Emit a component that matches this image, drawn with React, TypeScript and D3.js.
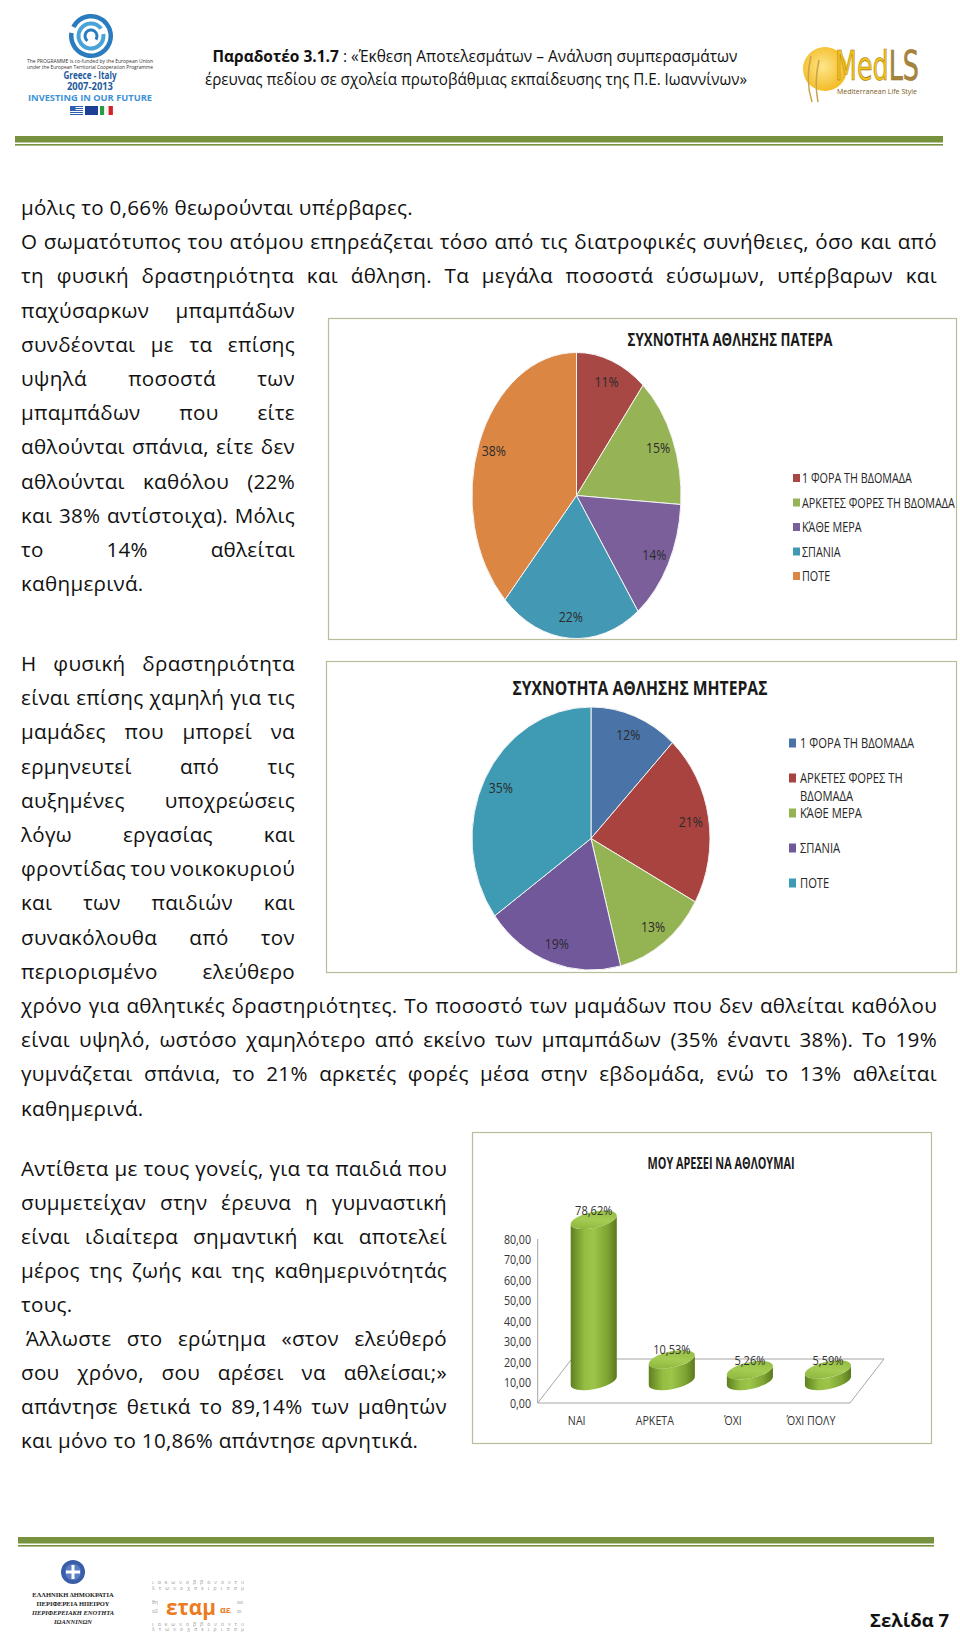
import { useEffect, useRef } from 'react';
import * as d3 from 'd3';

const FONT = "'Open Sans', 'Noto Sans', sans-serif";
const SERIF = "'Liberation Serif', 'DejaVu Serif', serif";

// ---- body text (one entry per printed line) ----
const para1Wide = [
  'μόλις το 0,66% θεωρούνται υπέρβαρες.',
  'Ο σωματότυπος του ατόμου επηρεάζεται τόσο από τις διατροφικές συνήθειες, όσο και από',
  'τη φυσική δραστηριότητα και άθληση. Τα μεγάλα ποσοστά εύσωμων, υπέρβαρων και',
];
const para1Narrow = [
  'παχύσαρκων μπαμπάδων',
  'συνδέονται με τα επίσης',
  'υψηλά ποσοστά των',
  'μπαμπάδων που είτε',
  'αθλούνται σπάνια, είτε δεν',
  'αθλούνται καθόλου (22%',
  'και 38% αντίστοιχα). Μόλις',
  'το 14% αθλείται',
  'καθημερινά.',
];
const para2Narrow = [
  'Η φυσική δραστηριότητα',
  'είναι επίσης χαμηλή για τις',
  'μαμάδες που μπορεί να',
  'ερμηνευτεί από τις',
  'αυξημένες υποχρεώσεις',
  'λόγω εργασίας και',
  'φροντίδας του νοικοκυριού',
  'και των παιδιών και',
  'συνακόλουθα από τον',
  'περιορισμένο ελεύθερο',
];
const para2Wide = [
  'χρόνο για αθλητικές δραστηριότητες. Το ποσοστό των μαμάδων που δεν αθλείται καθόλου',
  'είναι υψηλό, ωστόσο χαμηλότερο από εκείνο των μπαμπάδων (35% έναντι 38%). Το 19%',
  'γυμνάζεται σπάνια, το 21% αρκετές φορές μέσα στην εβδομάδα, ενώ το 13% αθλείται',
  'καθημερινά.',
];
const para3 = [
  'Αντίθετα με τους γονείς, για τα παιδιά που',
  'συμμετείχαν στην έρευνα η γυμναστική',
  'είναι ιδιαίτερα σημαντική και αποτελεί',
  'μέρος της ζωής και της καθημερινότητάς',
  'τους.',
  ' Άλλωστε στο ερώτημα «στον ελεύθερό',
  'σου χρόνο, σου αρέσει να αθλείσαι;»',
  'απάντησε θετικά το 89,14% των μαθητών',
  'και μόνο το 10,86% απάντησε αρνητικά.',
];

// ---- chart data ----
const fatherTitle = 'ΣΥΧΝΟΤΗΤΑ ΑΘΛΗΣΗΣ ΠΑΤΕΡΑ';
const fatherLabels = ['1 ΦΟΡΑ ΤΗ ΒΔΟΜΑΔΑ', 'ΑΡΚΕΤΕΣ ΦΟΡΕΣ ΤΗ ΒΔΟΜΑΔΑ', 'ΚΆΘΕ ΜΕΡΑ', 'ΣΠΑΝΙΑ', 'ΠΟΤΕ'];
const fatherValues = [11, 15, 14, 22, 38];
const fatherColors = ['#a84845', '#96b455', '#7a5f9b', '#4399b3', '#dc8643'];

const motherTitle = 'ΣΥΧΝΟΤΗΤΑ ΑΘΛΗΣΗΣ ΜΗΤΕΡΑΣ';
const motherLabels = [['1 ΦΟΡΑ ΤΗ ΒΔΟΜΑΔΑ'], ['ΑΡΚΕΤΕΣ ΦΟΡΕΣ ΤΗ', 'ΒΔΟΜΑΔΑ'], ['ΚΆΘΕ ΜΕΡΑ'], ['ΣΠΑΝΙΑ'], ['ΠΟΤΕ']];
const motherValues = [12, 21, 13, 19, 35];
const motherColors = ['#4a73a7', '#a9433f', '#94b453', '#71589b', '#3f9ab4'];

const likeTitle = 'ΜΟΥ ΑΡΕΣΕΙ ΝΑ ΑΘΛΟΥΜΑΙ';
const likeCategories = ['ΝΑΙ', 'ΑΡΚΕΤΑ', 'ΌΧΙ', 'ΌΧΙ ΠΟΛΥ'];
const likeValues = [78.62, 10.53, 5.26, 5.59];

const grLocale = d3.formatLocale({ decimal: ',', thousands: '.', grouping: [3], currency: ['', '€'] });
const fmt2 = grLocale.format('.2f');

const LEFT = 21;
const BODY_SIZE = 20.6;

// narrow text helper (Calibri is narrower than the fonts we have)
const NText = ({ x, y, sx = 0.86, size = 13, anchor = 'start', weight = 'normal', fill = '#262626', children }: any) => (
  <text
    transform={`translate(${x},${y}) scale(${sx},1)`}
    fontSize={size}
    fontWeight={weight}
    textAnchor={anchor}
    fill={fill}
    fontFamily={FONT}
  >
    {children}
  </text>
);

const PieChart = ({ values, colors, cx, cy, rx, ry }: any) => {
  const arcs = d3.pie<number>().sort(null)(values);
  const arc = d3.arc<d3.PieArcDatum<number>>().innerRadius(0).outerRadius(1);
  const labelArc = d3.arc<d3.PieArcDatum<number>>().innerRadius(0.85).outerRadius(0.85);
  return (
    <g>
      <g transform={`translate(${cx},${cy}) scale(${rx},${ry})`}>
        {arcs.map((a, i) => (
          <path key={i} d={arc(a) as string} fill={colors[i]} stroke="#f4f4f4" strokeWidth={1} vectorEffect="non-scaling-stroke" />
        ))}
      </g>
      {arcs.map((a, i) => {
        const [lx, ly] = labelArc.centroid(a);
        return (
          <NText key={i} x={cx + lx * rx} y={cy + ly * ry + 5.5} size={15} sx={0.82} anchor="middle" fill="#2b2b2b">
            {values[i]}%
          </NText>
        );
      })}
    </g>
  );
};

const CylinderChart = () => {
  const x0 = 537.7;
  const x1 = 850;
  const depthX = 34;
  const depthY = 44;
  const x = d3.scaleBand<string>().domain(likeCategories).range([x0, x1]);
  const y = d3.scaleLinear().domain([0, 80]).range([1403, 1239]);
  const ticks = y.ticks(8);
  const a = 23.5;
  const b = 8;
  const th = (-12 * Math.PI) / 180;
  const t = Math.atan(-(b * Math.sin(th)) / (a * Math.cos(th)));
  const ex = a * Math.cos(t) * Math.cos(th) - b * Math.sin(t) * Math.sin(th);
  const ey = a * Math.cos(t) * Math.sin(th) + b * Math.sin(t) * Math.cos(th);
  const deg = (th * 180) / Math.PI;
  return (
    <g>
      <defs>
        <linearGradient id="cylBody" x1="0" x2="1" y1="0" y2="0">
          <stop offset="0%" stopColor="#5f7f20" />
          <stop offset="30%" stopColor="#94bd42" />
          <stop offset="50%" stopColor="#9cc549" />
          <stop offset="80%" stopColor="#7ea332" />
          <stop offset="100%" stopColor="#5a781d" />
        </linearGradient>
        <linearGradient id="cylTop" x1="0" x2="1" y1="1" y2="0">
          <stop offset="0%" stopColor="#86ad36" />
          <stop offset="50%" stopColor="#a5cc52" />
          <stop offset="100%" stopColor="#8fb73e" />
        </linearGradient>
      </defs>
      {/* floor */}
      <path
        d={`M${x0},${y(0)} L${x1},${y(0)} L${x1 + depthX},${y(0) - depthY} L${x0 + depthX},${y(0) - depthY} Z`}
        fill="none"
        stroke="#a6a6a6"
        strokeWidth={1}
      />
      {/* value axis */}
      <line x1={x0} x2={x0} y1={y(80)} y2={y(0)} stroke="#a6a6a6" strokeWidth={1} />
      {ticks.map((v) => (
        <NText key={v} x={531} y={y(v) + 4.5} size={13} sx={0.82} anchor="end" fill="#333">
          {fmt2(v)}
        </NText>
      ))}
      {likeCategories.map((c, i) => {
        const cx = (x(c) as number) + x.bandwidth() / 2 + depthX / 2;
        const bot = y(0) - depthY / 2;
        const top = y(likeValues[i]) - depthY / 2;
        const body =
          `M${cx - ex},${top - ey} L${cx - ex},${bot - ey} ` +
          `A${a},${b} ${deg} 0 0 ${cx + ex},${bot + ey} ` +
          `L${cx + ex},${top + ey} A${a},${b} ${deg} 0 1 ${cx - ex},${top - ey} Z`;
        return (
          <g key={c}>
            <path d={body} fill="url(#cylBody)" />
            <ellipse cx={cx} cy={top} rx={a} ry={b} transform={`rotate(${deg},${cx},${top})`} fill="url(#cylTop)" />
            <NText x={cx} y={top - 5} size={13.5} sx={0.82} anchor="middle" fill="#333">
              {fmt2(likeValues[i])}%
            </NText>
          </g>
        );
      })}
      {likeCategories.map((c) => (
        <NText key={c} x={(x(c) as number) + x.bandwidth() / 2} y={1425} size={13} sx={0.82} anchor="middle" fill="#333">
          {c}
        </NText>
      ))}
    </g>
  );
};

const App = () => {
  const textRef = useRef<SVGGElement>(null);

  useEffect(() => {
    const g = d3.select(textRef.current);
    g.selectAll('*').remove();
    const probe = g.append('text').attr('visibility', 'hidden');
    const measure = (s: string) => {
      probe.text(s);
      return (probe.node() as SVGTextElement).getComputedTextLength();
    };
    const blocks = [
      { lines: para1Wide, y0: 215, step: 34.2, right: 937 },
      { lines: para1Narrow, y0: 215 + 3 * 34.2, step: 34.2, right: 295 },
      { lines: para2Narrow, y0: 671, step: 34.2, right: 295 },
      { lines: para2Wide, y0: 671 + 10 * 34.2, step: 34.2, right: 937 },
      { lines: para3, y0: 1176, step: 34, right: 447 },
    ];
    blocks.forEach((b) =>
      b.lines.forEach((line, i) => {
        const yy = b.y0 + i * b.step;
        const indent = line.startsWith(' ') ? 5 : 0;
        const txt = line.trim();
        if (txt.endsWith('.')) {
          g.append('text').attr('x', LEFT + indent).attr('y', yy).text(txt);
          return;
        }
        const words = txt.split(' ');
        const widths = words.map(measure);
        const gap = Math.max(2.5, (b.right - LEFT - indent - d3.sum(widths)) / (words.length - 1));
        let xx = LEFT + indent;
        words.forEach((w, k) => {
          g.append('text').attr('x', xx).attr('y', yy).text(w);
          xx += widths[k] + gap;
        });
      })
    );
    probe.remove();
  }, []);

  const greekFlag = d3.range(9);

  return (
    <div style={{ position: 'absolute', left: 0, top: 0 }}>
      <svg width={960} height={1634} style={{ display: 'block', background: '#fff' }} fontFamily={FONT}>
        {/* ---------- header ---------- */}
        <g>
          {[
            [17.5, 22, -0.35, 1.55],
            [10.5, 14.5, 0.45, 2.3],
            [4.5, 7.5, 1.2, 2.7],
          ].map(([ri, ro, s, e], i) => (
            <path
              key={i}
              transform="translate(91,36)"
              d={d3.arc()({ innerRadius: ri, outerRadius: ro, startAngle: s * Math.PI, endAngle: e * Math.PI }) as string}
              fill={i === 1 ? '#4aa3d8' : '#2a7cbf'}
            />
          ))}
          <text x={90} y={63} fontSize={5} textAnchor="middle" fill="#333" textLength={126} lengthAdjust="spacingAndGlyphs">The PROGRAMME is co-funded by the European Union</text>
          <text x={90} y={68.5} fontSize={5} textAnchor="middle" fill="#333" textLength={126} lengthAdjust="spacingAndGlyphs">under the European Territorial Cooperation Programme</text>
          <text x={90} y={79} fontSize={10} fontWeight="bold" textAnchor="middle" fill="#1f5b9c" textLength={53} lengthAdjust="spacingAndGlyphs">Greece - Italy</text>
          <text x={90} y={90} fontSize={10} fontWeight="bold" textAnchor="middle" fill="#1f5b9c" textLength={46} lengthAdjust="spacingAndGlyphs">2007-2013</text>
          <text x={90} y={101} fontSize={9} fontWeight="bold" textAnchor="middle" fill="#3d92d6" textLength={124} lengthAdjust="spacingAndGlyphs">INVESTING IN OUR FUTURE</text>
          {greekFlag.map((k) => (
            <rect key={k} x={70} y={106 + k} width={13} height={1} fill={k % 2 === 0 ? '#2f5fb0' : '#ffffff'} />
          ))}
          <rect x={70} y={106} width={5.5} height={5} fill="#2f5fb0" />
          <rect x={85} y={106} width={13} height={9} fill="#1d3f96" />
          <rect x={100} y={106} width={4.3} height={9} fill="#2a9a47" />
          <rect x={104.3} y={106} width={4.3} height={9} fill="#f4f4f4" />
          <rect x={108.6} y={106} width={4.3} height={9} fill="#d2232a" />
        </g>
        <text x={475} y={62} fontSize={16} textAnchor="middle" fill="#111" textLength={525} lengthAdjust="spacingAndGlyphs">
          <tspan fontWeight="bold">Παραδοτέο 3.1.7</tspan> : «Έκθεση Αποτελεσμάτων – Ανάλυση συμπερασμάτων
        </text>
        <text x={476} y={85} fontSize={16} textAnchor="middle" fill="#111" textLength={542} lengthAdjust="spacingAndGlyphs">
          έρευνας πεδίου σε σχολεία πρωτοβάθμιας εκπαίδευσης της Π.Ε. Ιωαννίνων»
        </text>
        <g>
          <defs>
            <radialGradient id="sun" cx="0.45" cy="0.45" r="0.6">
              <stop offset="0%" stopColor="#fde68a" />
              <stop offset="100%" stopColor="#f3b81d" />
            </radialGradient>
            <linearGradient id="medls" gradientUnits="userSpaceOnUse" x1={835} x2={919} y1={0} y2={0}>
              <stop offset="0.62" stopColor="#f2c21a" />
              <stop offset="0.62" stopColor="#a58443" />
            </linearGradient>
          </defs>
          <circle cx={825} cy={69} r={22} fill="url(#sun)" />
          <path d="M812,102 Q805,80 811,56 M818,102 Q814,82 819,60" stroke="#c9a24a" strokeWidth={1.5} fill="none" />
          <text x={835} y={80} fontSize={40} fill="url(#medls)" stroke="#9b7418" strokeWidth={0.6} fontFamily="'DejaVu Sans', sans-serif" textLength={84} lengthAdjust="spacingAndGlyphs">MedLS</text>
          <text x={837} y={94} fontSize={7.5} fill="#7a5a20" textLength={80} lengthAdjust="spacingAndGlyphs">Mediterranean Life Style</text>
        </g>
        <rect x={15} y={136} width={928} height={6.5} fill="#76923c" />
        <rect x={15} y={144} width={928} height={1.6} fill="#76923c" />

        {/* ---------- body text (justified in the effect) ---------- */}
        <g ref={textRef} fontSize={BODY_SIZE} fill="#111" fontFamily={FONT} style={{ letterSpacing: '0.3px' }} />

        {/* ---------- chart 1 ---------- */}
        <rect x={328.5} y={318.5} width={628} height={321} fill="#fff" stroke="#b9bc98" strokeWidth={1.2} />
        <text x={730} y={346} fontSize={17.5} fontWeight="bold" textAnchor="middle" fill="#1a1a1a" textLength={205} lengthAdjust="spacingAndGlyphs">
          {fatherTitle}
        </text>
        <PieChart values={fatherValues} colors={fatherColors} cx={576.5} cy={495.5} rx={104.5} ry={143} />
        {fatherLabels.map((l, i) => (
          <g key={l}>
            <rect x={793} y={478 + i * 24.5 - 4} width={7} height={8} fill={fatherColors[i]} />
            <NText x={802} y={478 + i * 24.5 + 5} size={14} sx={0.77}>{l}</NText>
          </g>
        ))}

        {/* ---------- chart 2 ---------- */}
        <rect x={326.5} y={661.5} width={630} height={311} fill="#fff" stroke="#b9bc98" strokeWidth={1.2} />
        <text x={640} y={695} fontSize={20} fontWeight="bold" textAnchor="middle" fill="#1a1a1a" textLength={255} lengthAdjust="spacingAndGlyphs">
          {motherTitle}
        </text>
        <PieChart values={motherValues} colors={motherColors} cx={591} cy={838.5} rx={119} ry={131.5} />
        {motherLabels.map((l, i) => (
          <g key={i}>
            <rect x={789} y={743 + i * 35 - 4.5} width={7} height={9} fill={motherColors[i]} />
            {l.map((s, k) => (
              <NText key={k} x={800} y={743 + i * 35 + 5 + k * 18} size={14} sx={0.8}>{s}</NText>
            ))}
          </g>
        ))}

        {/* ---------- chart 3 ---------- */}
        <rect x={472.5} y={1132.5} width={459} height={311} fill="#fff" stroke="#b9bc98" strokeWidth={1.2} />
        <text x={721} y={1169} fontSize={16.5} fontWeight="bold" textAnchor="middle" fill="#1a1a1a" textLength={147} lengthAdjust="spacingAndGlyphs">
          {likeTitle}
        </text>
        <CylinderChart />

        {/* ---------- footer ---------- */}
        <rect x={18} y={1537} width={916} height={6.5} fill="#76923c" />
        <rect x={18} y={1545} width={916} height={1.6} fill="#76923c" />
        <g>
          <circle cx={73} cy={1572} r={12} fill="#3a5ea8" />
          <circle cx={73} cy={1572} r={8} fill="#5b7fc4" />
          <rect x={71.5} y={1565} width={3} height={14} fill="#fff" />
          <rect x={66} y={1570.5} width={14} height={3} fill="#fff" />
          {['ΕΛΛΗΝΙΚΗ ΔΗΜΟΚΡΑΤΙΑ', 'ΠΕΡΙΦΕΡΕΙΑ ΗΠΕΙΡΟΥ', 'ΠΕΡΙΦΕΡΕΙΑΚΗ ΕΝΟΤΗΤΑ', 'ΙΩΑΝΝΙΝΩΝ'].map((s, i) => (
            <text key={s} x={73} y={1597 + i * 9} fontSize={6.5} fontWeight="bold" fontStyle={i > 1 ? 'italic' : 'normal'} textAnchor="middle" fill="#222" fontFamily={SERIF}>
              {s}
            </text>
          ))}
        </g>
        <g fontSize={5} fill="#9a9a9a" fontFamily={FONT}>
          <text x={152} y={1584} textLength={92} lengthAdjust="spacing">ιακωνοββονοντυ</text>
          <text x={152} y={1589.5} textLength={92} lengthAdjust="spacing">λτωνοχσειρισσμ</text>
          <text x={152} y={1626} textLength={92} lengthAdjust="spacing">ιακωνοββονοντυ</text>
          <text x={152} y={1631} textLength={92} lengthAdjust="spacing">λτωνοχσειρισσμ</text>
          <text x={152} y={1604}>θη</text>
          <text x={152} y={1613}>οδ</text>
          <text x={237} y={1604}>οο</text>
          <text x={237} y={1613}>οι</text>
        </g>
        <text x={166} y={1615} fontSize={21} fontWeight="bold" fill="#ec7b1f" textLength={50} lengthAdjust="spacingAndGlyphs">εταμ</text>
        <text x={220} y={1613} fontSize={9} fontWeight="bold" fill="#ec7b1f">αε</text>
        <text x={949} y={1627} fontSize={17.5} fontWeight="bold" textAnchor="end" fill="#111" textLength={79} lengthAdjust="spacingAndGlyphs">
          Σελίδα 7
        </text>
      </svg>
    </div>
  );
};

export default App;
